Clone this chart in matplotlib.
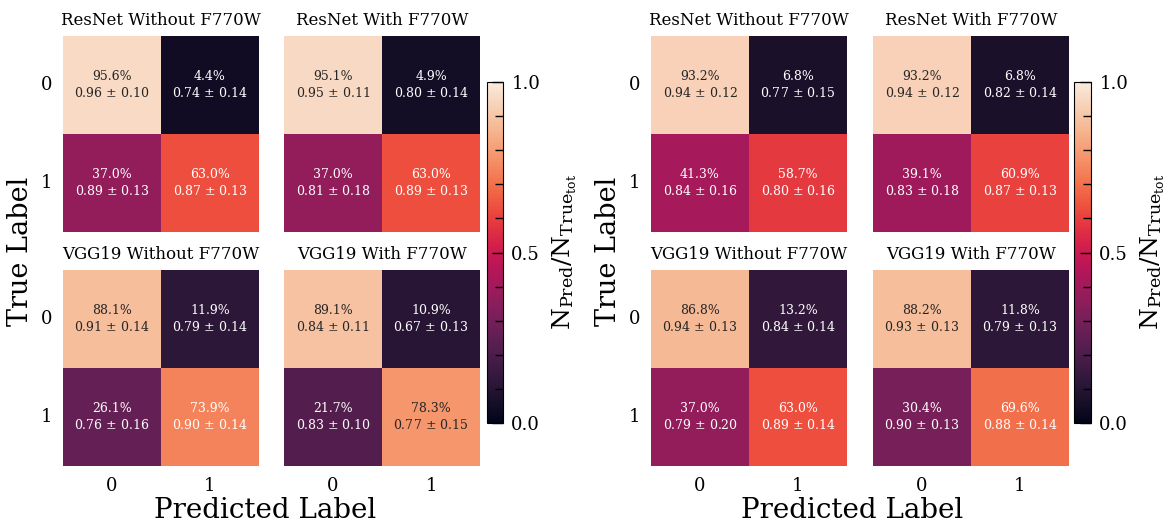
import matplotlib
matplotlib.use("Agg")
import matplotlib.pyplot as plt
import numpy as np
import seaborn as sns
from matplotlib.cm import ScalarMappable
from matplotlib.colors import Normalize
from matplotlib.ticker import MultipleLocator

plt.rcParams['font.family'] = ['DejaVu Serif']
plt.rcParams['mathtext.fontset'] = 'dejavuserif'

titles = ['ResNet Without F770W', 'ResNet With F770W',
          'VGG19 Without F770W', 'VGG19 With F770W']

# set 1 (left block): fraction of true class, mean score, score spread
frac_1 = [np.array([[95.6, 4.4], [37.0, 63.0]]),
          np.array([[95.1, 4.9], [37.0, 63.0]]),
          np.array([[88.1, 11.9], [26.1, 73.9]]),
          np.array([[89.1, 10.9], [21.7, 78.3]])]
mean_1 = [np.array([[0.96, 0.74], [0.89, 0.87]]),
          np.array([[0.95, 0.80], [0.81, 0.89]]),
          np.array([[0.91, 0.79], [0.76, 0.90]]),
          np.array([[0.84, 0.67], [0.83, 0.77]])]
std_1 = [np.array([[0.10, 0.14], [0.13, 0.13]]),
         np.array([[0.11, 0.14], [0.18, 0.13]]),
         np.array([[0.14, 0.14], [0.16, 0.14]]),
         np.array([[0.11, 0.13], [0.10, 0.15]])]

# set 2 (right block)
frac_2 = [np.array([[93.2, 6.8], [41.3, 58.7]]),
          np.array([[93.2, 6.8], [39.1, 60.9]]),
          np.array([[86.8, 13.2], [37.0, 63.0]]),
          np.array([[88.2, 11.8], [30.4, 69.6]])]
mean_2 = [np.array([[0.94, 0.77], [0.84, 0.80]]),
          np.array([[0.94, 0.82], [0.83, 0.87]]),
          np.array([[0.94, 0.84], [0.79, 0.89]]),
          np.array([[0.93, 0.79], [0.90, 0.88]])]
std_2 = [np.array([[0.12, 0.15], [0.16, 0.16]]),
         np.array([[0.12, 0.14], [0.18, 0.13]]),
         np.array([[0.13, 0.14], [0.20, 0.14]]),
         np.array([[0.13, 0.13], [0.13, 0.14]])]

class_labels = ['0', '1']

W, H = 1168, 525
fig = plt.figure(figsize=(W / 100, H / 100), dpi=100)
cmap = sns.color_palette('rocket', as_cmap=True)


def px_axes(x0, y0, x1, y1):
    return fig.add_axes([x0 / W, 1 - y1 / H, (x1 - x0) / W, (y1 - y0) / H])


def draw_block(frac, mean, std, cols, rows, cbar_x, ylab_x, xlab_x):
    for k in range(4):
        r, c = divmod(k, 2)
        ax = px_axes(cols[c][0], rows[r][0], cols[c][1], rows[r][1])
        annot = np.empty((2, 2), dtype=object)
        for i in range(2):
            for j in range(2):
                annot[i, j] = '%.1f%%\n%.2f $\\pm$ %.2f' % (frac[k][i, j], mean[k][i, j], std[k][i, j])
        sns.heatmap(frac[k] / 100, ax=ax, cmap=cmap, vmin=0, vmax=1, cbar=False,
                    annot=annot, fmt='', annot_kws={'fontsize': 9})
        ax.set_title(titles[k], fontsize=12, pad=8)
        ax.tick_params(length=0, labelsize=13, pad=8)
        ax.set_xticklabels(class_labels if r == 1 else [])
        ax.set_yticklabels(class_labels if c == 0 else [], rotation=0)

    cax = px_axes(cbar_x[0], 82, cbar_x[1], 423)
    cb = fig.colorbar(ScalarMappable(norm=Normalize(0, 1), cmap=cmap), cax=cax)
    cb.set_ticks([0, 0.5, 1.0])
    cb.ax.yaxis.set_minor_locator(MultipleLocator(0.1))
    cb.ax.tick_params(which='major', direction='in', length=8, width=1, labelsize=13, pad=6)
    cb.ax.tick_params(which='minor', direction='in', length=6, width=1)
    cb.set_label(r'$\mathrm{N_{Pred}/N_{True_{tot}}}$', fontsize=18, labelpad=7)

    fig.text(ylab_x / W, 1 - 251 / H, 'True Label', rotation=90, fontsize=19.5,
             ha='center', va='center')
    fig.text(xlab_x / W, 1 - 510 / H, 'Predicted Label', fontsize=20,
             ha='center', va='center')


draw_block(frac_1, mean_1, std_1, cols=[(63, 259), (284, 480)],
           rows=[(36, 232), (270, 466)], cbar_x=(487, 503), ylab_x=21, xlab_x=265)
draw_block(frac_2, mean_2, std_2, cols=[(651, 847), (873, 1069)],
           rows=[(36, 232), (270, 466)], cbar_x=(1074, 1091), ylab_x=608, xlab_x=852)

fig.savefig('out.png', dpi=100)
